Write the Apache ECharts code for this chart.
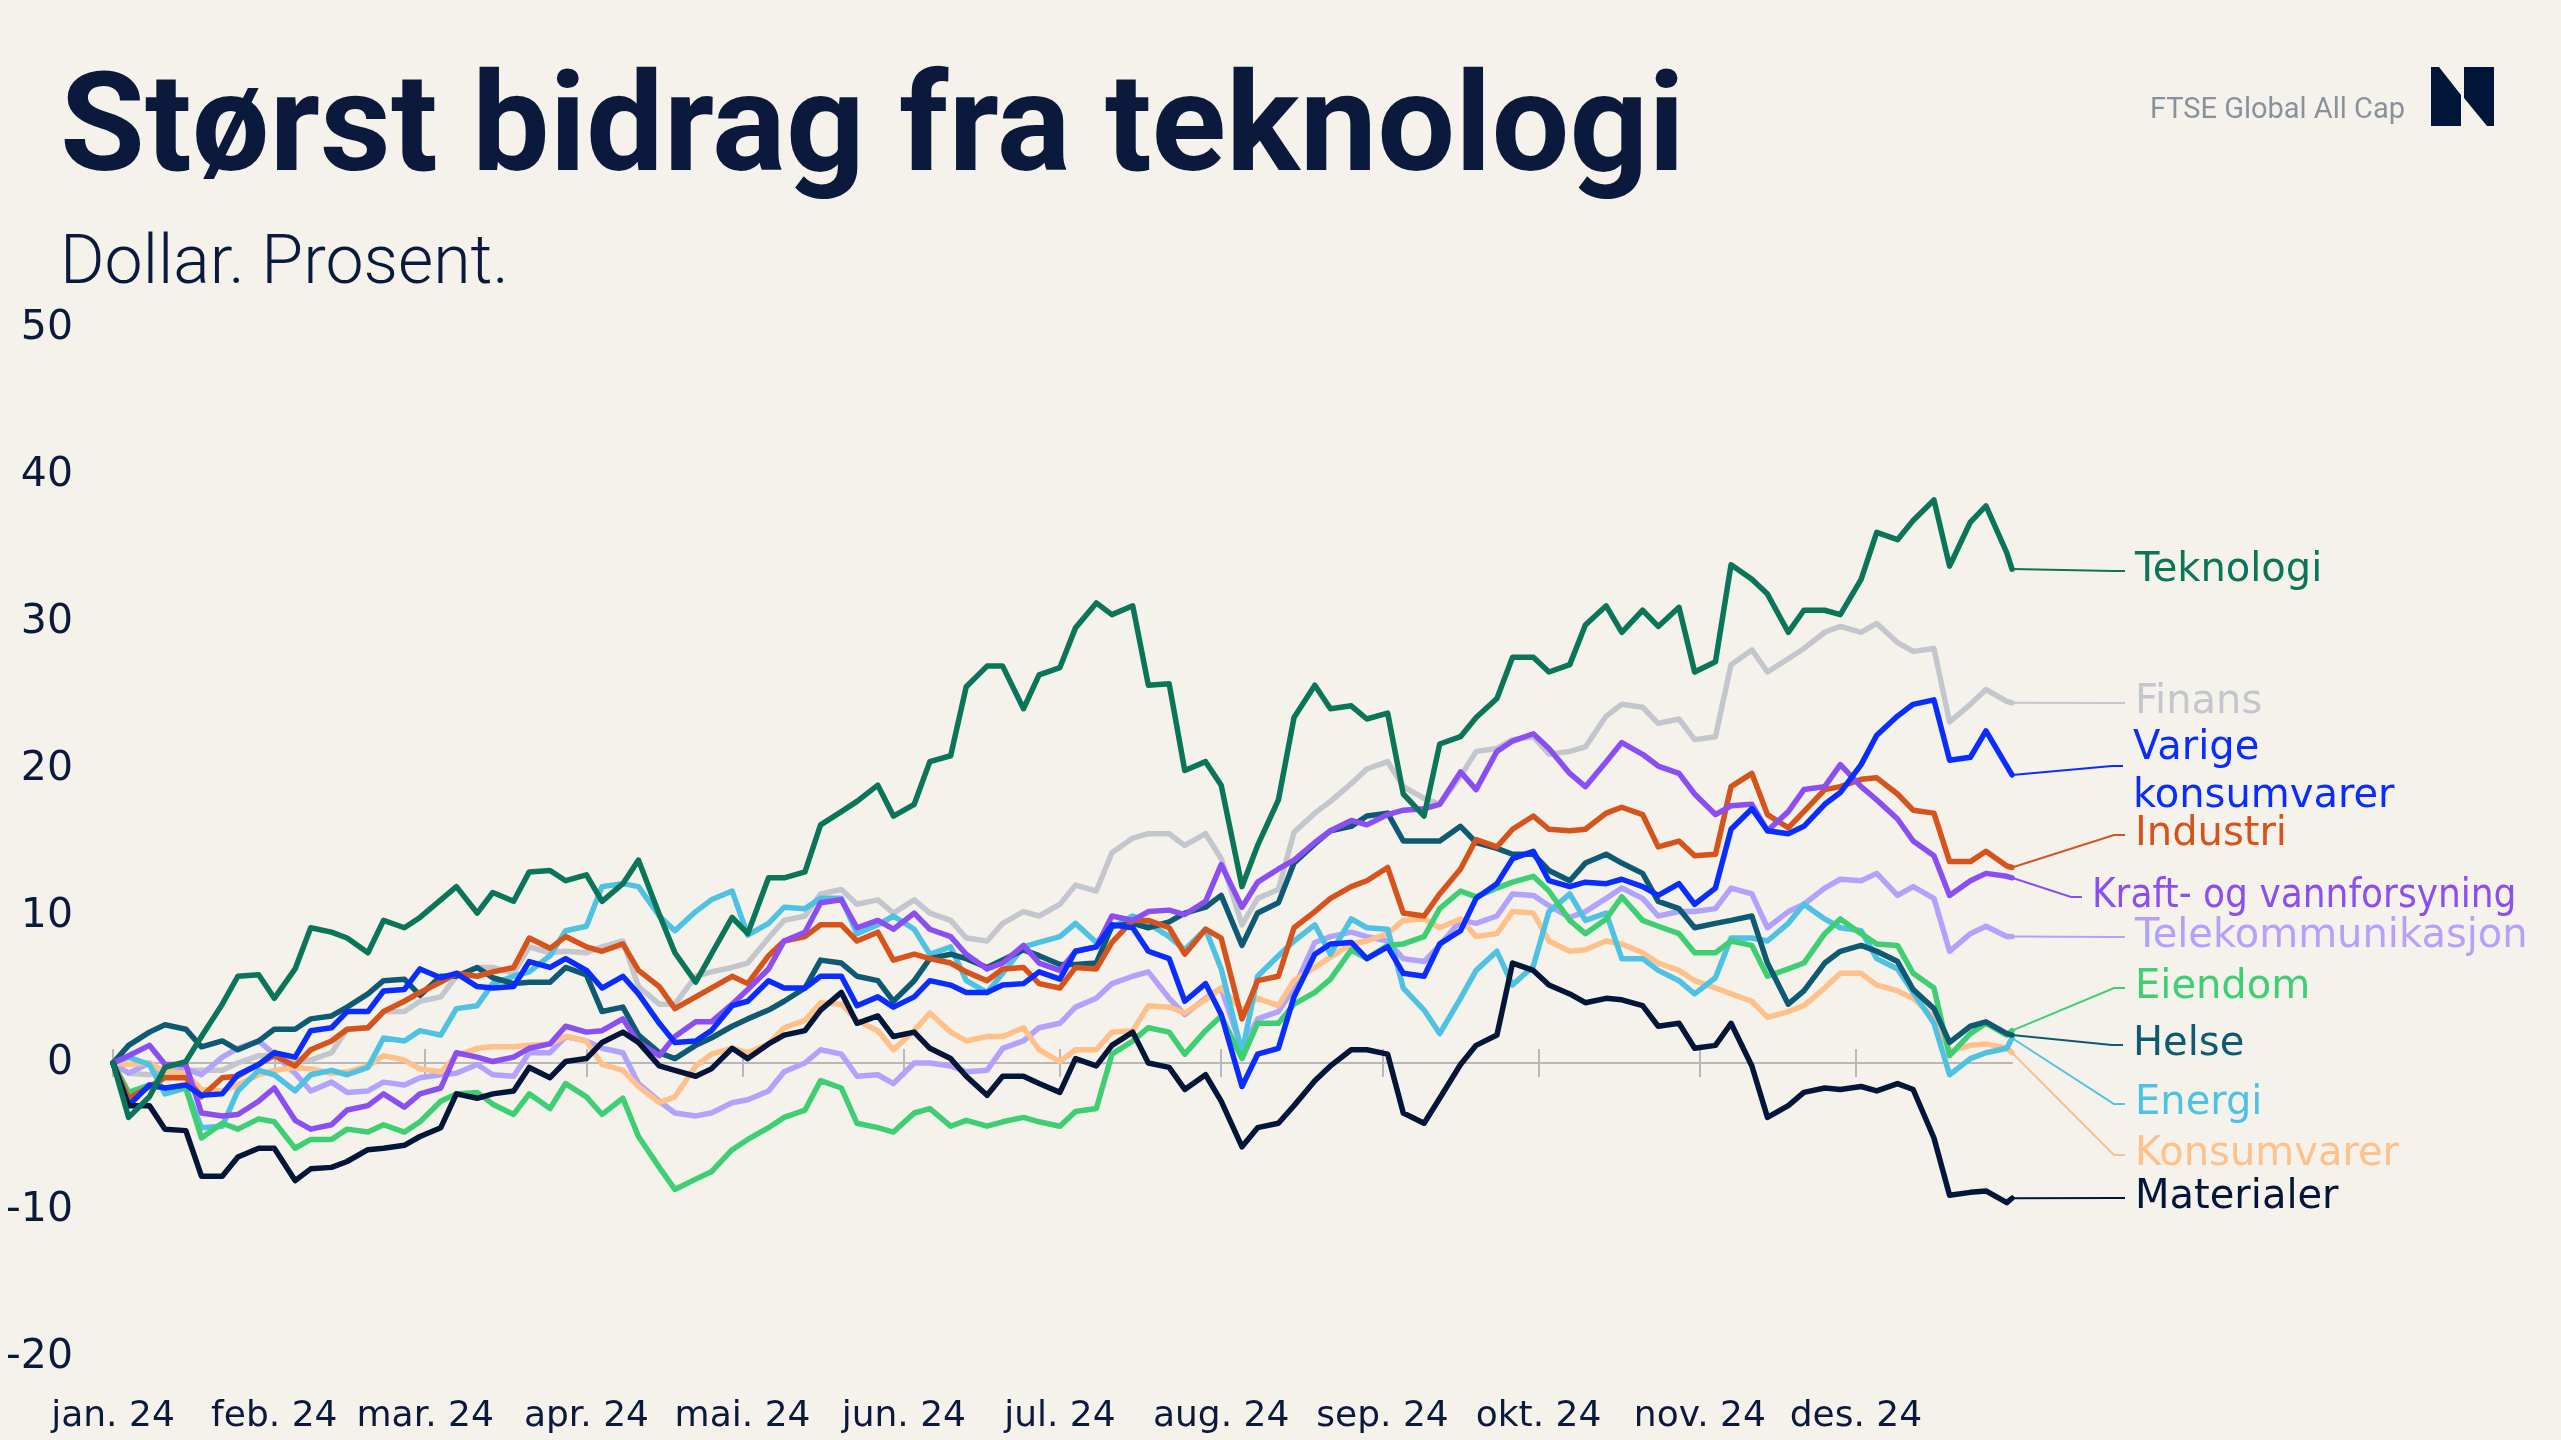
<!DOCTYPE html>
<html>
<head>
<meta charset="utf-8">
<title>Størst bidrag fra teknologi</title>
<script src="https://cdn.jsdelivr.net/npm/echarts@6.0.0/dist/echarts.min.js"></script>
<style>
  html, body { margin: 0; padding: 0; background: #f5f2eb; }
  #main { width: 2561px; height: 1440px; }
</style>
</head>
<body>
<div id="main"></div>
<script>
// observasjoner to ganger i uka, avkastning i dollar, prosent
var dates = [
  '2024-01-01','2024-01-04','2024-01-08','2024-01-11','2024-01-15','2024-01-18','2024-01-22','2024-01-25','2024-01-29','2024-02-01','2024-02-05','2024-02-08','2024-02-12','2024-02-15','2024-02-19','2024-02-22','2024-02-26','2024-02-29',
  '2024-03-04','2024-03-07','2024-03-11','2024-03-14','2024-03-18','2024-03-21','2024-03-25','2024-03-28','2024-04-01','2024-04-04','2024-04-08','2024-04-11','2024-04-15','2024-04-18','2024-04-22','2024-04-25','2024-04-29','2024-05-02',
  '2024-05-06','2024-05-09','2024-05-13','2024-05-16','2024-05-20','2024-05-23','2024-05-27','2024-05-30','2024-06-03','2024-06-06','2024-06-10','2024-06-13','2024-06-17','2024-06-20','2024-06-24','2024-06-27','2024-07-01','2024-07-04',
  '2024-07-08','2024-07-11','2024-07-15','2024-07-18','2024-07-22','2024-07-25','2024-07-29','2024-08-01','2024-08-05','2024-08-08','2024-08-12','2024-08-15','2024-08-19','2024-08-22','2024-08-26','2024-08-29','2024-09-02','2024-09-05',
  '2024-09-09','2024-09-12','2024-09-16','2024-09-19','2024-09-23','2024-09-26','2024-09-30','2024-10-03','2024-10-07','2024-10-10','2024-10-14','2024-10-17','2024-10-21','2024-10-24','2024-10-28','2024-10-31','2024-11-04','2024-11-07',
  '2024-11-11','2024-11-14','2024-11-18','2024-11-21','2024-11-25','2024-11-28','2024-12-02','2024-12-05','2024-12-09','2024-12-12','2024-12-16','2024-12-19','2024-12-23','2024-12-26','2024-12-30','2024-12-31'
];
var monthLabels = ['jan. 24','feb. 24','mar. 24','apr. 24','mai. 24','jun. 24','jul. 24','aug. 24','sep. 24','okt. 24','nov. 24','des. 24'];
var yTicks = [-20, -10, 0, 10, 20, 30, 40, 50];

var teknologi = [
  0,-3.7,-2.3,-0.3,0.1,1.8,4.0,5.9,6.0,4.4,6.4,9.2,8.9,8.5,7.5,9.7,9.2,9.9,
  11.1,12.0,10.2,11.6,11.0,13.0,13.1,12.4,12.8,11.0,12.2,13.8,10.1,7.5,5.5,7.4,9.9,8.8,
  12.6,12.6,13.0,16.2,17.1,17.8,18.9,16.8,17.6,20.5,20.9,25.6,27.0,27.0,24.1,26.4,26.9,29.6,
  31.3,30.5,31.1,25.7,25.8,19.9,20.5,18.9,12.0,14.8,17.9,23.5,25.7,24.1,24.3,23.4,23.8,18.3,
  16.8,21.7,22.2,23.5,24.8,27.6,27.6,26.6,27.1,29.8,31.1,29.3,30.8,29.7,31.0,26.6,27.3,33.9,
  32.9,31.9,29.3,30.8,30.8,30.5,32.9,36.1,35.6,36.9,38.3,33.8,36.8,37.9,34.7,33.6];
var finans = [
  0,-0.7,-0.8,-0.3,-0.5,-0.5,-0.5,0.0,0.5,0.5,0.2,0.2,0.7,2.3,2.4,3.5,3.5,4.2,
  4.5,5.9,6.5,6.5,6.1,7.9,7.5,7.6,7.5,7.9,8.3,5.2,4.0,4.0,5.9,6.2,6.5,6.8,
  8.5,9.7,10.0,11.5,11.8,10.8,11.1,10.2,11.1,10.2,9.7,8.5,8.3,9.5,10.3,10.0,10.8,12.1,
  11.7,14.3,15.3,15.6,15.6,14.8,15.6,13.9,9.4,11.2,11.8,15.7,17.0,17.8,19.0,20.0,20.5,18.8,
  18.0,17.6,19.5,21.2,21.4,22.0,22.2,21.0,21.2,21.5,23.6,24.4,24.2,23.1,23.4,22.0,22.2,27.1,
  28.1,26.6,27.5,28.2,29.3,29.7,29.3,29.9,28.6,28.0,28.2,23.2,24.4,25.4,24.6,24.5];
var varige = [
  0,-2.9,-1.5,-1.7,-1.5,-2.2,-2.1,-0.8,-0.1,0.7,0.4,2.2,2.4,3.5,3.5,4.9,5.0,6.4,
  5.8,6.1,5.2,5.1,5.2,6.9,6.5,7.1,6.3,5.1,5.9,4.7,2.7,1.4,1.5,2.2,3.9,4.2,
  5.6,5.1,5.1,5.9,5.9,3.9,4.5,3.8,4.5,5.6,5.3,4.8,4.8,5.3,5.4,6.2,5.7,7.6,
  7.9,9.4,9.2,7.6,7.1,4.2,5.4,3.3,-1.6,0.6,1.0,4.5,7.4,8.1,8.2,7.1,7.9,6.1,
  5.9,8.1,9.0,11.2,12.2,13.9,14.4,12.4,12.0,12.3,12.2,12.5,12.0,11.4,12.2,10.8,11.9,15.9,
  17.3,15.8,15.6,16.1,17.6,18.4,20.3,22.3,23.6,24.4,24.7,20.6,20.8,22.6,20.2,19.6];
var industri = [
  0,-2.4,-1.6,-1.0,-1.0,-2.3,-1.0,-0.9,-0.1,0.5,-0.2,0.9,1.5,2.3,2.4,3.5,4.2,4.8,
  5.5,6.1,5.9,6.2,6.5,8.5,7.8,8.6,7.9,7.6,8.1,6.3,5.2,3.7,4.5,5.1,5.9,5.4,
  7.3,8.3,8.6,9.4,9.4,8.3,8.9,7.0,7.4,7.1,6.8,6.2,5.6,6.4,6.5,5.4,5.1,6.5,
  6.4,8.2,9.7,9.7,9.2,7.4,9.1,8.5,3.0,5.6,5.9,9.2,10.3,11.2,12.0,12.4,13.3,10.2,
  10.0,11.5,13.2,15.2,14.7,15.9,16.8,15.9,15.8,15.9,17.0,17.4,16.9,14.7,15.1,14.1,14.2,18.8,
  19.7,16.9,16.0,17.1,18.6,18.8,19.3,19.4,18.3,17.2,17.0,13.7,13.7,14.4,13.4,13.3];
var kraft = [
  0,0.5,1.2,-0.1,-0.1,-3.4,-3.6,-3.5,-2.6,-1.7,-3.9,-4.5,-4.2,-3.2,-2.9,-2.1,-3.0,-2.1,
  -1.7,0.7,0.4,0.1,0.4,1.0,1.3,2.5,2.1,2.2,3.0,1.4,0.5,1.8,2.8,2.8,4.0,5.0,
  6.4,8.3,8.9,10.9,11.1,9.2,9.7,9.1,10.2,9.1,8.6,7.4,6.4,6.8,8.0,6.8,6.3,7.6,
  7.9,10.0,9.7,10.3,10.4,10.1,11.0,13.5,10.6,12.3,13.2,13.8,15.0,15.8,16.5,16.2,16.9,17.2,
  17.3,17.6,19.8,18.6,21.2,21.9,22.4,21.4,19.7,18.8,20.5,21.8,21.0,20.2,19.7,18.3,16.9,17.5,
  17.6,15.8,17.1,18.6,18.8,20.3,18.8,17.9,16.6,15.1,14.1,11.4,12.4,12.9,12.7,12.6];
var telekom = [
  0,-0.7,0.0,-0.8,-0.4,-0.8,0.4,1.0,1.5,0.6,-0.7,-1.9,-1.3,-2.0,-1.9,-1.3,-1.5,-1.0,
  -0.8,-0.7,-0.1,-0.8,-0.9,0.7,0.7,1.8,1.5,1.0,0.7,-1.4,-2.6,-3.4,-3.6,-3.4,-2.7,-2.5,
  -1.9,-0.6,0.0,0.9,0.6,-0.9,-0.8,-1.4,0.0,0.0,-0.2,-0.6,-0.5,1.0,1.5,2.4,2.7,3.8,
  4.4,5.4,5.9,6.2,4.4,3.3,4.4,5.1,0.9,3.0,3.5,5.1,8.2,8.6,8.9,8.6,8.3,7.1,
  6.9,8.0,9.7,9.5,10.0,11.5,11.4,10.7,9.9,10.3,11.2,11.9,11.2,10.0,10.3,10.3,10.5,11.9,
  11.5,9.2,10.3,10.8,11.9,12.5,12.4,12.9,11.4,12.0,11.2,7.6,8.8,9.3,8.6,8.6];
var eiendom = [
  0,-2.0,-1.5,-1.7,-1.7,-5.1,-4.1,-4.5,-3.8,-4.0,-5.8,-5.2,-5.2,-4.5,-4.7,-4.2,-4.7,-4.0,
  -2.6,-2.1,-2.0,-2.8,-3.5,-2.1,-3.1,-1.4,-2.3,-3.5,-2.4,-5.0,-7.1,-8.6,-7.9,-7.4,-5.9,-5.2,
  -4.4,-3.7,-3.2,-1.2,-1.7,-4.1,-4.4,-4.7,-3.4,-3.1,-4.3,-3.9,-4.3,-4.0,-3.7,-4.0,-4.3,-3.3,
  -3.1,0.6,1.5,2.4,2.1,0.6,2.2,3.2,0.3,2.7,2.7,4.0,4.8,5.7,7.7,7.1,8.0,8.1,
  8.6,10.5,11.7,11.3,11.9,12.3,12.7,11.7,9.7,8.8,9.8,11.3,9.7,9.3,8.8,7.5,7.5,8.3,
  8.0,5.9,6.4,6.8,8.8,9.8,8.8,8.1,8.0,6.1,5.1,0.5,2.0,2.7,1.9,2.2];
var helse = [
  0,1.2,2.1,2.6,2.3,1.1,1.5,0.9,1.5,2.3,2.3,3.0,3.2,3.8,4.7,5.6,5.7,4.6,
  5.9,5.9,6.5,5.8,5.4,5.5,5.5,6.5,6.0,3.5,3.8,1.9,0.7,0.3,1.2,1.7,2.5,3.0,
  3.6,4.2,5.1,7.0,6.8,5.9,5.6,4.2,5.6,7.1,7.4,7.1,6.5,7.0,7.7,7.3,6.7,6.7,
  6.8,9.3,9.5,9.2,9.6,10.2,10.6,11.4,8.0,10.2,10.9,13.6,14.9,15.8,16.1,16.8,17.0,15.1,
  15.1,15.1,16.1,15.0,14.6,14.2,14.2,13.1,12.4,13.6,14.2,13.6,12.9,11.0,10.5,9.2,9.5,9.7,
  10.0,6.8,4.0,4.9,6.8,7.6,8.0,7.6,6.9,5.0,3.7,1.4,2.5,2.8,2.0,1.9];
var energi = [
  0,0.4,-0.1,-2.1,-1.7,-4.4,-4.3,-1.9,-0.5,-0.8,-1.9,-0.8,-0.5,-0.8,-0.3,1.7,1.5,2.2,
  1.9,3.7,3.9,5.4,5.9,6.2,7.3,9.0,9.3,12.0,12.2,12.0,10.0,9.0,10.3,11.1,11.7,8.7,
  9.5,10.6,10.5,11.2,11.2,8.8,9.4,10.0,9.1,7.4,7.9,5.6,4.8,6.1,7.9,8.2,8.6,9.5,
  8.2,9.2,10.0,9.5,8.6,7.7,9.1,6.4,0.7,5.9,7.3,8.3,9.4,7.4,9.8,9.2,9.1,5.1,
  3.6,2.0,4.4,6.3,7.6,5.3,6.6,10.3,11.5,9.7,10.2,7.1,7.1,6.3,5.6,4.7,5.8,8.5,
  8.5,8.3,9.5,10.8,9.8,9.2,9.0,7.1,6.4,4.8,2.7,-0.8,0.3,0.7,1.0,1.7];
var konsumvarer = [
  0,-0.1,0.0,-0.6,-0.7,-1.8,-1.9,-1.5,-0.8,-0.5,-0.3,-0.4,-0.7,-0.6,-0.2,0.5,0.2,-0.4,
  -0.6,0.5,1.0,1.1,1.1,1.2,1.3,1.8,1.5,-0.1,-0.5,-1.6,-2.7,-2.3,-0.2,0.6,1.0,0.7,
  1.3,2.4,2.9,4.1,4.0,2.9,2.2,0.9,2.2,3.4,2.1,1.5,1.8,1.8,2.4,0.9,0.1,0.9,
  0.9,2.1,2.2,3.9,3.8,3.4,4.3,5.1,3.6,4.4,3.9,5.6,6.5,7.2,8.1,8.3,8.8,9.7,
  9.8,9.2,9.8,8.6,8.8,10.3,10.2,8.3,7.6,7.7,8.3,8.1,7.5,6.8,6.3,5.6,5.1,4.7,
  4.2,3.1,3.5,3.9,5.1,6.1,6.1,5.3,4.9,4.4,3.1,0.8,1.2,1.3,1.0,0.7];
var materialer = [
  0,-2.9,-2.9,-4.5,-4.6,-7.7,-7.7,-6.4,-5.8,-5.8,-8.0,-7.2,-7.1,-6.7,-5.9,-5.8,-5.6,-5.0,
  -4.4,-2.1,-2.4,-2.1,-1.9,-0.3,-1.0,0.1,0.3,1.4,2.1,1.4,-0.2,-0.5,-0.9,-0.4,1.0,0.3,
  1.3,1.9,2.2,3.6,4.8,2.7,3.2,1.8,2.1,1.0,0.3,-0.9,-2.2,-0.9,-0.9,-1.4,-2.0,0.3,
  -0.2,1.2,2.1,0.0,-0.3,-1.8,-0.8,-2.6,-5.7,-4.4,-4.1,-2.9,-1.2,-0.2,0.9,0.9,0.6,-3.4,
  -4.1,-2.4,-0.1,1.2,1.9,6.8,6.3,5.3,4.7,4.1,4.4,4.3,3.9,2.5,2.7,1.0,1.2,2.7,
  -0.2,-3.7,-2.9,-2.0,-1.7,-1.8,-1.6,-1.9,-1.4,-1.8,-5.1,-9.0,-8.8,-8.7,-9.5,-9.2];

// sektorer: navn, data, farge, etikettplassering (y) og tekststart (x)
var sectors = [
  { name: 'Finans', data: finans, color: '#c3c6cc', labelY: 703, textX: 2135 },
  { name: 'Telekommunikasjon', data: telekom, color: '#b1a2fc', labelY: 937, textX: 2135 },
  { name: 'Konsumvarer', data: konsumvarer, color: '#ffc08a', labelY: 1155, textX: 2135 },
  { name: 'Energi', data: energi, color: '#4fc2e3', labelY: 1104, textX: 2135 },
  { name: 'Eiendom', data: eiendom, color: '#3ecf72', labelY: 988, textX: 2135 },
  { name: 'Helse', data: helse, color: '#0f5a73', labelY: 1045, textX: 2133 },
  { name: 'Industri', data: industri, color: '#d6531c', labelY: 835, textX: 2135 },
  { name: 'Kraft- og vannforsyning', data: kraft, color: '#8b4ef2', labelY: 897, textX: 2092, squeeze: 0.9 },
  { name: 'Varige\nkonsumvarer', data: varige, color: '#0a2dff', labelY: 766, textX: 2133, textY: 773 },
  { name: 'Materialer', data: materialer, color: '#03163a', labelY: 1198, textX: 2135 },
  { name: 'Teknologi', data: teknologi, color: '#0a7559', labelY: 571, textX: 2135 }
];

var navy = '#0b1a3c';
var labelFont = 'DejaVu Sans';
var zeroGrey = '#b8b8b8';

function toTime(d) {
  var p = d.split('-');
  return new Date(+p[0], +p[1] - 1, +p[2]).getTime();
}

var times = dates.map(toTime);
var monthStarts = [];
for (var m = 0; m < 12; m++) {
  monthStarts.push(new Date(2024, m, 1).getTime());
}

var myChart = echarts.init(document.getElementById('main'));

var gridBox = { left: 113, right: 549, top: 328, bottom: 83 };
var xBase = {
  type: 'value',
  min: toTime('2024-01-01'),
  max: toTime('2024-12-31'),
  position: 'bottom',
  splitLine: { show: false }
};
var yBase = { type: 'value', min: -20, max: 50, interval: 10, splitLine: { show: false } };

var option = {
  backgroundColor: '#f5f2eb',
  animation: false,
  grid: [gridBox, gridBox],
  xAxis: [
    // etiketter nederst
    Object.assign({}, xBase, {
      gridIndex: 0,
      axisLine: { show: false, onZero: false },
      axisTick: { show: false },
      axisLabel: {
        customValues: monthStarts,
        color: navy,
        fontFamily: labelFont,
        fontSize: 36,
        margin: 42,
        formatter: function (v) {
          return monthLabels[new Date(v).getMonth()];
        }
      }
    }),
    // nullinje med månedsstreker under
    Object.assign({}, xBase, {
      gridIndex: 0,
      axisLine: { show: true, onZero: true, lineStyle: { color: zeroGrey, width: 2 } },
      axisTick: { show: true, customValues: monthStarts, length: 14, lineStyle: { color: zeroGrey, width: 2 } },
      axisLabel: { show: false }
    }),
    // månedsstreker over nullinja
    Object.assign({}, xBase, {
      gridIndex: 1,
      axisLine: { show: false, onZero: true },
      axisTick: { show: true, inside: true, customValues: monthStarts, length: 14, lineStyle: { color: zeroGrey, width: 2 } },
      axisLabel: { show: false }
    })
  ],
  yAxis: [
    Object.assign({}, yBase, {
      gridIndex: 0,
      axisLine: { show: false },
      axisTick: { show: false },
      axisLabel: {
        color: navy,
        fontFamily: labelFont,
        fontSize: 41,
        margin: 40,
        customValues: yTicks
      }
    }),
    Object.assign({}, yBase, {
      gridIndex: 1,
      axisLine: { show: false },
      axisTick: { show: false },
      axisLabel: { show: false }
    })
  ],
  series: sectors.map(function (s) {
    return {
      name: s.name,
      type: 'line',
      xAxisIndex: 0,
      yAxisIndex: 0,
      showSymbol: false,
      silent: true,
      lineStyle: { color: s.color, width: 5.5, cap: 'round', join: 'round' },
      data: times.map(function (t, i) { return [t, s.data[i]]; })
    };
  })
};

myChart.setOption(option);

// tittel, undertittel, kilde, logo
var graphics = [
  { type: 'text', x: 60, y: 135, style: { text: 'Størst bidrag fra teknologi', font: 'bold 138px Roboto', fill: navy, textVerticalAlign: 'middle' } },
  { type: 'text', x: 60, y: 266, style: { text: 'Dollar. Prosent.', font: '300 68px Roboto', fill: navy, textVerticalAlign: 'middle' } },
  { type: 'text', x: 2405, y: 111, style: { text: 'FTSE Global All Cap', font: '29px Roboto', fill: '#8a919e', textAlign: 'right', textVerticalAlign: 'middle' } },
  { type: 'polygon', shape: { points: [[2431, 67], [2439, 67], [2461, 95], [2461, 126], [2431, 126]] }, style: { fill: '#001638' } },
  { type: 'polygon', shape: { points: [[2464, 67], [2494, 67], [2494, 126], [2487, 126], [2464, 98]] }, style: { fill: '#001638' } }
];

// etiketter med ledelinjer fra siste punkt
sectors.forEach(function (s, i) {
  var last = times.length - 1;
  var p = myChart.convertToPixel({ seriesIndex: i }, [times[last], s.data[last]]);
  var lineEnd = s.textX - 10;
  var elbow = s.textX - 21;
  graphics.push({
    type: 'polyline',
    shape: { points: [[p[0], p[1]], [elbow, s.labelY], [lineEnd, s.labelY]] },
    style: { stroke: s.color, lineWidth: 2, fill: null }
  });
  graphics.push({
    type: 'text',
    x: s.textX,
    y: s.textY || s.labelY,
    scaleX: s.squeeze || 1,
    style: {
      text: s.name,
      font: '40px "' + labelFont + '"',
      fill: s.color,
      textVerticalAlign: 'middle',
      lineHeight: 48
    }
  });
});

myChart.setOption({ graphic: graphics });
</script>
</body>
</html>
